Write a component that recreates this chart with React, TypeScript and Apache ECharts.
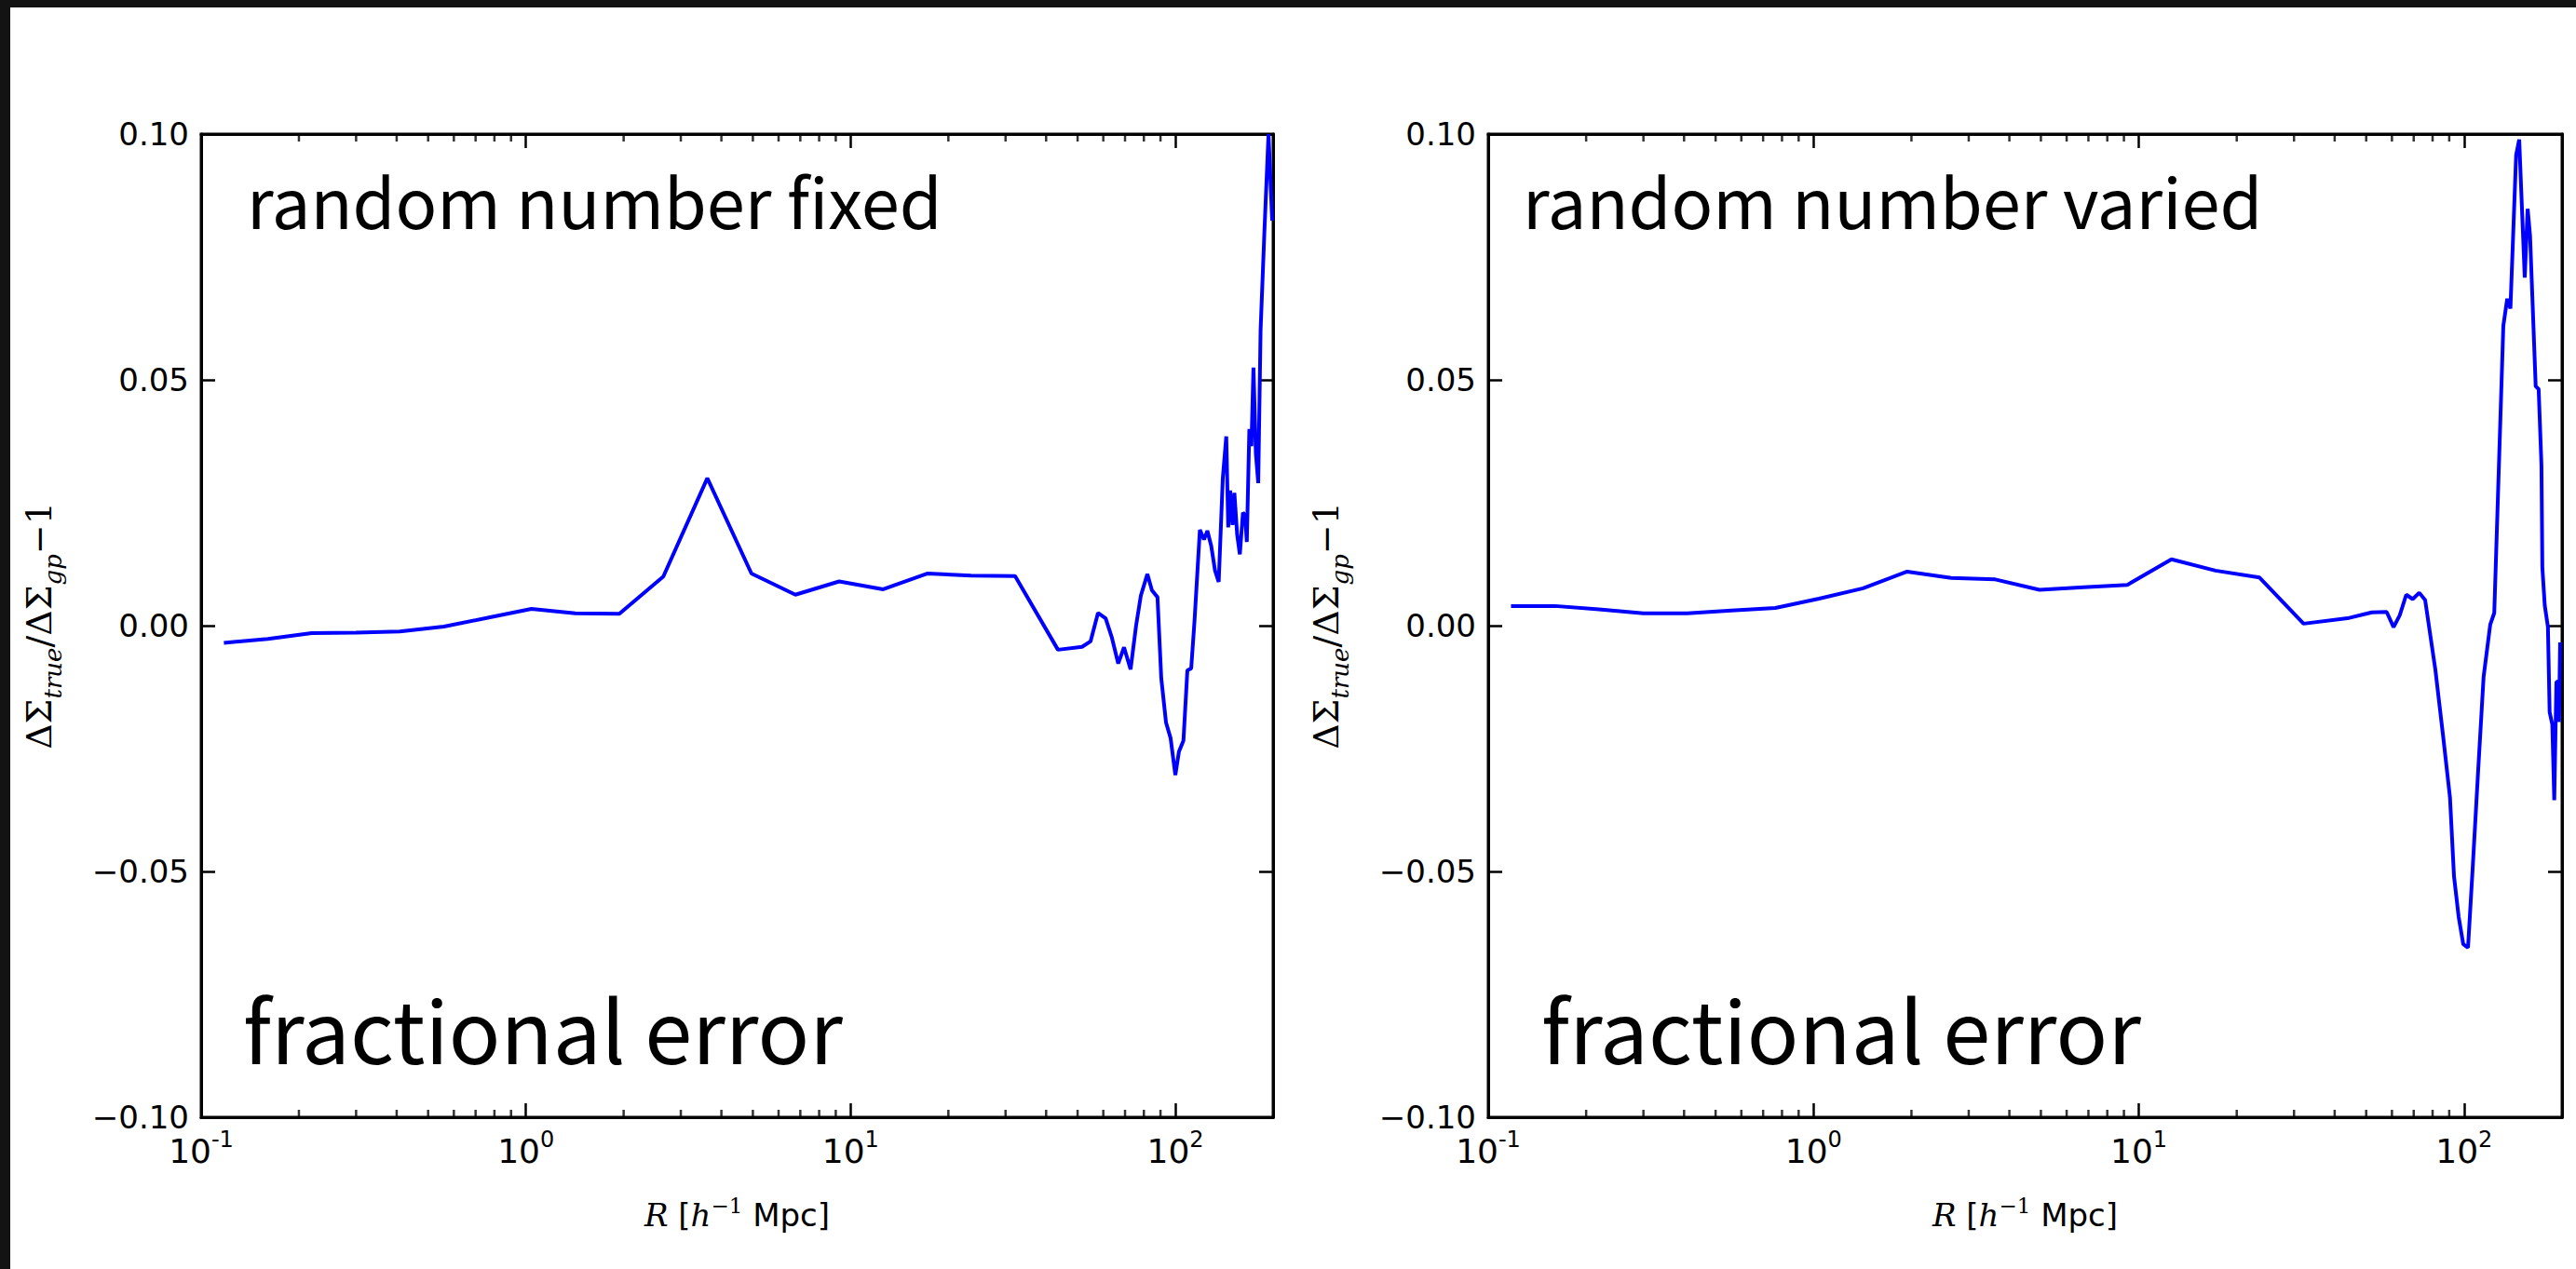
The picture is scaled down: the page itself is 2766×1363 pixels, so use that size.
import React, { useEffect, useRef } from "react";
import * as echarts from "echarts";

// Fractional error of the lensing profile, random number fixed
const radiusFixed = [
  0.1175, 0.1605, 0.219, 0.3, 0.409, 0.559, 0.763, 1.04, 1.42, 1.94, 2.65, 3.62, 4.95, 6.76, 9.22,
  12.6, 17.2, 23.5, 32.1, 43.5, 51.6, 54.8, 57.8, 61.0, 63.8, 66.7, 69.5, 72.8, 75.7, 78.3, 82.0,
  84.7, 88.1, 90.5, 93.6, 96.7, 100, 102.6, 105.9, 108.9, 111.9, 114.6, 119, 122.5, 125.5, 129,
  132.5, 136, 140, 143.5, 145.5, 147.5, 150, 152, 155, 158, 161.5, 164, 166, 169, 171.5, 174, 177,
  180, 183, 188, 193.6, 198.7,
];
const errorFixed = [
  -0.0035, -0.0027, -0.0015, -0.0014, -0.0012, -0.0002, 0.0016, 0.0034, 0.0025, 0.0024, 0.01, 0.03,
  0.0106, 0.0063, 0.009, 0.0074, 0.0106, 0.0102, 0.0101, -0.0049, -0.0043, -0.0032, 0.0026, 0.0015,
  -0.0025, -0.0077, -0.0044, -0.0089, 0.0, 0.0061, 0.0105, 0.0072, 0.0058, -0.0107, -0.0197,
  -0.0229, -0.0304, -0.0256, -0.0234, -0.0091, -0.0087, 0.0011, 0.0195, 0.0175, 0.0193, 0.0162,
  0.0112, 0.0089, 0.03, 0.0385, 0.02, 0.0275, 0.0205, 0.027, 0.0185, 0.0145, 0.023, 0.0225, 0.017,
  0.04, 0.0365, 0.0525, 0.035, 0.029, 0.06, 0.08, 0.1, 0.0824,
];

// Fractional error, random number varied
const radiusVaried = [
  0.1175, 0.1605, 0.219, 0.3, 0.409, 0.559, 0.763, 1.04, 1.42, 1.94, 2.65, 3.62, 4.95, 6.76, 9.22,
  12.6, 17.2, 23.5, 32.1, 43.8, 52, 57.8, 60.7, 63.4, 66.4, 69.5, 72.8, 75.9, 81.6, 86.2, 90.5,
  93.1, 96.2, 99.4, 102.8, 106.2, 110.5, 114.8, 120.3, 123.8, 132, 135.7, 138.8, 144.5, 147.7,
  153.6, 156.8, 159.5, 166, 169.5, 172.9, 174, 177, 181, 183.2, 186.7, 189.3, 192.2, 194.3, 195.7,
  197.3,
];
const errorVaried = [
  0.004, 0.004, 0.0033, 0.0025, 0.0025, 0.0031, 0.0036, 0.0055, 0.0076, 0.011, 0.0097, 0.0094,
  0.0073, 0.0078, 0.0083, 0.0135, 0.0112, 0.0098, 0.0004, 0.0015, 0.0027, 0.0028, -0.0003, 0.0021,
  0.0063, 0.0054, 0.0067, 0.0052, -0.009, -0.0225, -0.035, -0.051, -0.0592, -0.0648, -0.0655,
  -0.0496, -0.0293, -0.0104, 0.0002, 0.0026, 0.061, 0.0665, 0.0645, 0.0957, 0.0989, 0.0708, 0.0848,
  0.0793, 0.0487, 0.0481, 0.0326, 0.0118, 0.0041, -0.0003, -0.0176, -0.0201, -0.0355, -0.0114,
  -0.0114, -0.0196, -0.0034,
];

// Minor tick positions on the logarithmic radius axis
const minorTickRadii = [
  0.2, 0.3, 0.4, 0.5, 0.6, 0.7, 0.8, 0.9, 2, 3, 4, 5, 6, 7, 8, 9, 20, 30, 40, 50, 60, 70, 80, 90,
];

const panelNotes = ["random number fixed", "random number varied"];
const panelHeading = "fractional error";
const xRange = [0.1, 200];
const yRange = [-0.1, 0.1];
const yStep = 0.05;

const W = 2766;
const H = 1363;
const grids = [
  { left: 216, top: 144, width: 1151, height: 1056 },
  { left: 1598, top: 144, width: 1153, height: 1056 },
];

const sansFont = "DejaVu Sans";
const mathFont = "DejaVu Serif";
const noteFont = "Noto Sans CJK JP";
const MINOR_LEN = 8;
const MAJOR_LEN = 15;
const TICK_W = 2.5;

function decadeLabel(v: number): string {
  const e = Math.log10(v);
  const r = Math.round(e);
  if (Math.abs(e - r) > 1e-6) return "";
  return `{b|10}{s|${r < 0 ? "-" + Math.abs(r) : r}}`;
}

function yLabel(v: number): string {
  const a = Math.abs(v) < 1e-9 ? 0 : v;
  return (a < 0 ? "\u2212" : "") + Math.abs(a).toFixed(2);
}

export default function App() {
  const ref = useRef<HTMLDivElement>(null);

  useEffect(() => {
    document.body.style.margin = "0";
    if (!ref.current) return;
    const chart = echarts.init(ref.current, undefined, { renderer: "svg" });

    const tickStyle = { color: "#000", width: TICK_W };
    const xAxes: any[] = [];
    const yAxes: any[] = [];
    const series: any[] = [];
    const graphics: any[] = [];

    grids.forEach((g, i) => {
      const baseX = {
        type: "log",
        logBase: 10,
        gridIndex: i,
        min: xRange[0],
        max: xRange[1],
        axisLine: { show: true, onZero: false, lineStyle: { color: "#000", width: 3 } },
        splitLine: { show: false },
        axisTick: { show: true, inside: true, length: MAJOR_LEN, lineStyle: tickStyle },
      };
      xAxes.push({
        ...baseX,
        position: "bottom",
        axisLabel: {
          show: true,
          margin: 12,
          formatter: decadeLabel,
          rich: {
            b: { fontFamily: sansFont, fontSize: 36, color: "#000", lineHeight: 48 },
            s: { fontFamily: sansFont, fontSize: 24, color: "#000", lineHeight: 24, verticalAlign: "top" },
          },
        },
      });
      xAxes.push({ ...baseX, position: "top", axisLabel: { show: false } });

      const baseY = {
        type: "value",
        gridIndex: i,
        min: yRange[0],
        max: yRange[1],
        interval: yStep,
        axisLine: { show: true, onZero: false, lineStyle: { color: "#000", width: 3 } },
        splitLine: { show: false },
        axisTick: { show: true, inside: true, length: MAJOR_LEN, lineStyle: tickStyle },
      };
      yAxes.push({
        ...baseY,
        position: "left",
        axisLabel: {
          show: true,
          margin: 13,
          formatter: yLabel,
          fontFamily: sansFont,
          fontSize: 34,
          color: "#000",
        },
      });
      yAxes.push({ ...baseY, position: "right", axisLabel: { show: false } });

      const radii = i === 0 ? radiusFixed : radiusVaried;
      const errs = i === 0 ? errorFixed : errorVaried;
      series.push({
        type: "line",
        xAxisIndex: 2 * i,
        yAxisIndex: 2 * i,
        data: radii.map((r, k) => [r, errs[k]]),
        showSymbol: false,
        symbol: "none",
        clip: true,
        lineStyle: { color: "#0000ff", width: 4 },
        z: 3,
      });

      // minor ticks at the bottom and top edges, pointing inward
      [yRange[0], yRange[1]].forEach((edge, k) => {
        series.push({
          type: "scatter",
          xAxisIndex: 2 * i,
          yAxisIndex: 2 * i,
          silent: true,
          clip: false,
          data: minorTickRadii.map((r) => [r, edge]),
          symbol: "rect",
          symbolSize: [TICK_W, MINOR_LEN],
          symbolOffset: [0, k === 0 ? -MINOR_LEN / 2 : MINOR_LEN / 2],
          itemStyle: { color: "#000" },
          z: 4,
        });
      });

      // axis titles
      graphics.push({
        type: "text",
        x: g.left + g.width / 2,
        y: 1305,
        style: {
          text: "{i|R}{n| [}{i|h}{sup|\u22121}{n| Mpc]}",
          align: "center",
          verticalAlign: "middle",
          rich: {
            i: { fontFamily: mathFont, fontStyle: "italic", fontSize: 34, lineHeight: 44, fill: "#000" },
            n: { fontFamily: sansFont, fontSize: 34, lineHeight: 44, fill: "#000" },
            sup: { fontFamily: mathFont, fontSize: 23, lineHeight: 23, verticalAlign: "top", fill: "#000" },
          },
        },
      });
      graphics.push({
        type: "text",
        x: g.left - 174,
        y: g.top + g.height / 2,
        rotation: Math.PI / 2,
        style: {
          text: "{m|\u0394\u03a3}{sub|true}{m|/\u0394\u03a3}{sub|gp}{m|\u22121}",
          align: "center",
          verticalAlign: "middle",
          rich: {
            m: { fontFamily: mathFont, fontSize: 38, lineHeight: 56, fill: "#000" },
            sub: { fontFamily: mathFont, fontStyle: "italic", fontSize: 26, lineHeight: 26, verticalAlign: "bottom", fill: "#000" },
          },
        },
      });

      // in-panel annotations
      graphics.push({
        type: "text",
        x: g.left + (i === 0 ? 49 : 37),
        y: 213,
        style: {
          text: panelNotes[i],
          align: "left",
          verticalAlign: "middle",
          fontFamily: noteFont,
          fontSize: 74,
          fill: "#000",
        },
      });
      graphics.push({
        type: "text",
        x: g.left + (i === 0 ? 45 : 57),
        y: 1102,
        style: {
          text: panelHeading,
          align: "left",
          verticalAlign: "middle",
          fontFamily: noteFont,
          fontSize: 92,
          fill: "#000",
        },
      });
    });

    // dark frame strips along the top and left edges
    graphics.push({ type: "rect", shape: { x: 0, y: 0, width: W, height: 8 }, style: { fill: "#131313" }, z: 10 });
    graphics.push({ type: "rect", shape: { x: 0, y: 0, width: 11, height: H }, style: { fill: "#131313" }, z: 10 });

    chart.setOption({
      animation: false,
      backgroundColor: "#ffffff",
      grid: grids.map((g) => ({
        ...g,
        show: true,
        borderColor: "#000",
        borderWidth: 3,
        backgroundColor: "transparent",
        containLabel: false,
      })),
      xAxis: xAxes,
      yAxis: yAxes,
      series,
      graphic: graphics,
    });

    return () => chart.dispose();
  }, []);

  return <div ref={ref} style={{ width: W, height: H }} />;
}
